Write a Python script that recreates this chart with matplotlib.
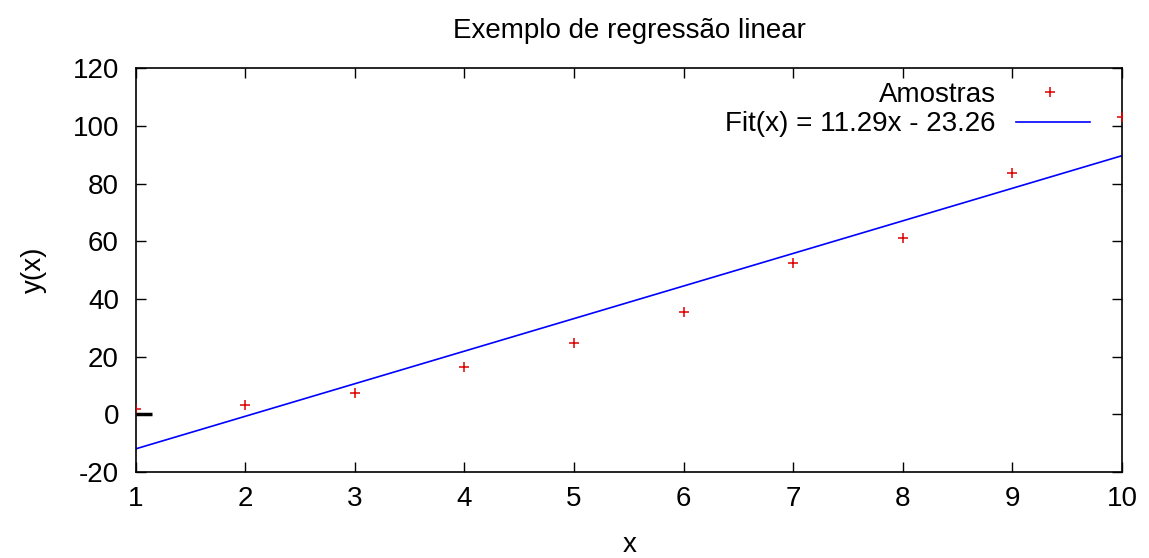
import numpy as np
import matplotlib.pyplot as plt
from matplotlib.lines import Line2D

plt.rcParams['font.family'] = ['Liberation Sans', 'DejaVu Sans']
plt.rcParams['axes.unicode_minus'] = False

# Dados
x_amostras = [1, 2, 3, 4, 5, 6, 7, 8, 9, 10]
y_amostras = [1.7, 3.2, 7.3, 16.3, 24.8, 35.5, 52.4, 61.1, 83.8, 103.0]

# Coeficientes do ajuste
coef_a = 11.29
coef_b = -23.26

# Traço preto no eixo (y = 0)
traco_x = [1, 1.15]
traco_y = [0, 0]

xticks = [1, 2, 3, 4, 5, 6, 7, 8, 9, 10]
yticks = [-20, 0, 20, 40, 60, 80, 100, 120]

fs = 20
ms = 7.5

fig = plt.figure(figsize=(11.49, 5.58), dpi=100)
ax = fig.add_axes([0.118, 0.154, 0.8585, 0.724])

x_fit = np.array([xticks[0], xticks[-1]])
ax.plot(x_fit, coef_a * x_fit + coef_b, color='#0000ff', linewidth=1.2, zorder=2)
ax.plot(x_amostras, y_amostras, linestyle='none', marker='+', markersize=ms,
        markeredgewidth=1.1, color='#dd0000', clip_on=True, zorder=3)
ax.plot(traco_x, traco_y, color='black', linewidth=2.5, zorder=4, solid_capstyle='butt')

ax.set_xlim(1, 10)
ax.set_ylim(-20, 120)
ax.set_xticks(xticks)
ax.set_yticks(yticks)
ax.tick_params(direction='in', top=True, right=True, length=7, width=1,
               labelsize=fs)
ax.tick_params(axis='x', pad=10)
ax.tick_params(axis='y', pad=12)
for s in ax.spines.values():
    s.set_linewidth(1.2)

ax.set_ylabel('y(x)', fontsize=fs, labelpad=18)
fig.text(0.548, 0.024, 'x', ha='center', va='center', fontsize=fs)
fig.text(0.548, 0.944, 'Exemplo de regressão linear', ha='center', va='center', fontsize=fs)

# Legenda estilo gnuplot (texto à direita alinhado)
ax.text(0.872, 0.933, 'Amostras', transform=ax.transAxes, ha='right', va='center', fontsize=fs)
ax.text(0.872, 0.861, f'Fit(x) = {coef_a:.2f}x - {abs(coef_b):.2f}', transform=ax.transAxes,
        ha='right', va='center', fontsize=fs)
ax.add_line(Line2D([0.927], [0.94], transform=ax.transAxes, linestyle='none', marker='+',
                   markersize=ms, markeredgewidth=1.1, color='#dd0000'))
ax.add_line(Line2D([0.893, 0.968], [0.866, 0.866], transform=ax.transAxes,
                   color='#0000ff', linewidth=1.2))

fig.savefig('out.png', dpi=100)
